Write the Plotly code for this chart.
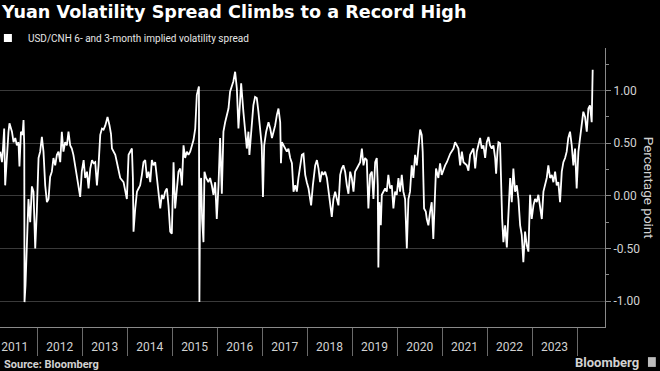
import plotly.graph_objects as go

title = "Yuan Volatility Spread Climbs to a Record High"
series_name = "USD/CNH 6- and 3-month implied volatility spread"
y_title = "Percentage point"
source = "Source: Bloomberg"
brand = "Bloomberg"

dates = [
    "2011-03-07", "2011-03-21", "2011-03-29", "2011-04-08", "2011-04-16", "2011-04-30", "2011-05-13", "2011-05-21",
    "2011-06-10", "2011-06-23", "2011-07-07", "2011-07-20", "2011-08-02", "2011-08-10", "2011-08-22", "2011-09-04",
    "2011-09-12", "2011-09-18", "2011-09-20", "2011-09-28", "2011-10-09", "2011-10-22", "2011-11-05", "2011-11-19",
    "2011-12-02", "2011-12-16", "2011-12-29",
    "2012-01-12", "2012-01-25", "2012-02-08", "2012-02-21", "2012-03-06", "2012-03-20", "2012-04-02", "2012-04-15",
    "2012-04-29", "2012-05-12", "2012-05-26", "2012-06-09", "2012-06-22", "2012-07-06", "2012-07-19", "2012-08-01",
    "2012-08-15", "2012-08-29", "2012-09-11", "2012-09-25", "2012-10-08", "2012-10-21", "2012-11-04", "2012-11-18",
    "2012-12-01", "2012-12-15", "2012-12-28",
    "2013-01-12", "2013-01-25", "2013-02-08", "2013-02-21", "2013-03-07", "2013-03-21", "2013-04-03", "2013-04-16",
    "2013-04-30", "2013-05-13", "2013-05-27", "2013-06-10", "2013-06-23", "2013-07-07", "2013-07-25", "2013-08-10",
    "2013-08-22", "2013-08-30", "2013-09-12", "2013-09-26", "2013-10-09", "2013-10-22", "2013-11-05", "2013-12-02",
    "2013-12-16", "2013-12-29",
    "2014-01-12", "2014-01-25", "2014-02-08", "2014-02-16", "2014-02-21", "2014-03-07", "2014-03-21", "2014-04-03",
    "2014-04-16", "2014-04-30", "2014-05-13", "2014-05-27", "2014-06-10", "2014-06-23", "2014-07-07", "2014-07-20",
    "2014-08-02", "2014-08-16", "2014-08-30", "2014-09-12", "2014-09-26", "2014-10-09", "2014-10-22", "2014-11-05",
    "2014-11-19", "2014-12-02", "2014-12-16", "2014-12-29",
    "2015-01-12", "2015-01-25", "2015-02-08", "2015-02-21", "2015-03-07", "2015-03-21", "2015-04-03", "2015-04-16",
    "2015-04-30", "2015-05-13", "2015-05-27", "2015-06-10", "2015-06-23", "2015-07-07", "2015-07-20", "2015-08-06",
    "2015-08-10", "2015-08-16", "2015-08-24", "2015-09-01", "2015-09-12", "2015-09-20", "2015-10-04", "2015-10-22",
    "2015-11-05", "2015-11-19", "2015-12-02", "2015-12-16", "2015-12-29",
    "2016-01-12", "2016-01-25", "2016-02-08", "2016-02-21", "2016-03-06", "2016-03-20", "2016-04-02", "2016-04-15",
    "2016-04-29", "2016-05-12", "2016-05-26", "2016-06-09", "2016-06-22", "2016-07-14", "2016-08-01", "2016-08-15",
    "2016-08-29", "2016-09-11", "2016-09-19", "2016-10-08", "2016-10-21", "2016-11-04", "2016-11-18", "2016-12-01",
    "2016-12-15", "2016-12-28",
    "2017-01-07", "2017-01-17", "2017-02-02", "2017-02-21", "2017-03-07", "2017-03-21", "2017-04-03", "2017-04-16",
    "2017-04-30", "2017-05-13", "2017-05-27", "2017-06-02", "2017-06-10", "2017-06-23", "2017-07-20", "2017-08-02",
    "2017-08-16", "2017-08-30", "2017-09-12", "2017-09-26", "2017-10-09", "2017-10-22", "2017-11-05", "2017-11-19",
    "2017-12-02", "2017-12-16", "2017-12-29",
    "2018-01-12", "2018-01-25", "2018-02-02", "2018-02-16", "2018-03-07", "2018-03-21", "2018-04-03", "2018-04-16",
    "2018-04-30", "2018-05-13", "2018-05-27", "2018-06-10", "2018-06-23", "2018-07-07", "2018-07-20", "2018-08-02",
    "2018-08-16", "2018-08-30", "2018-09-12", "2018-09-26", "2018-10-09", "2018-10-22", "2018-11-05", "2018-11-19",
    "2018-12-02", "2018-12-16", "2018-12-29",
    "2019-01-12", "2019-01-25", "2019-02-08", "2019-02-21", "2019-03-07", "2019-03-21", "2019-04-03", "2019-04-16",
    "2019-04-30", "2019-05-13", "2019-05-27", "2019-06-10", "2019-06-23", "2019-07-07", "2019-07-20", "2019-07-28",
    "2019-08-02", "2019-08-10", "2019-08-22", "2019-08-30", "2019-09-12", "2019-09-26", "2019-10-09", "2019-10-22",
    "2019-11-05", "2019-11-19", "2019-12-02", "2019-12-16", "2019-12-29",
    "2020-01-12", "2020-01-25", "2020-02-08", "2020-02-21", "2020-03-06", "2020-03-20", "2020-04-02", "2020-04-15",
    "2020-04-29", "2020-05-12", "2020-05-26", "2020-06-09", "2020-06-22", "2020-07-06", "2020-07-19", "2020-07-27",
    "2020-08-07", "2020-08-21", "2020-08-29", "2020-09-11", "2020-09-25", "2020-10-08", "2020-10-21", "2020-10-29",
    "2020-11-12", "2020-12-01", "2020-12-15", "2020-12-28",
    "2021-01-12", "2021-01-25", "2021-02-08", "2021-03-07", "2021-04-03", "2021-04-16", "2021-04-30", "2021-05-13",
    "2021-05-27", "2021-06-10", "2021-06-23", "2021-07-20", "2021-08-02", "2021-08-16", "2021-09-12", "2021-09-26",
    "2021-10-09", "2021-11-05", "2021-11-19", "2021-12-02", "2021-12-16", "2021-12-29",
    "2022-01-12", "2022-01-25", "2022-02-08", "2022-02-21", "2022-03-07", "2022-03-15", "2022-03-26", "2022-04-03",
    "2022-04-16", "2022-04-25", "2022-05-03", "2022-05-13", "2022-05-27", "2022-06-10", "2022-06-23", "2022-07-07",
    "2022-07-20", "2022-08-02", "2022-08-16", "2022-08-30", "2022-09-12", "2022-09-26", "2022-10-09", "2022-10-22",
    "2022-11-05", "2022-11-19", "2022-12-02", "2022-12-10", "2022-12-16", "2022-12-29",
    "2023-01-12", "2023-01-25", "2023-02-08", "2023-02-21", "2023-03-07", "2023-03-21", "2023-04-03", "2023-04-16",
    "2023-04-30", "2023-05-13", "2023-05-27", "2023-06-10", "2023-06-23", "2023-07-07", "2023-07-20", "2023-08-02",
    "2023-08-16", "2023-08-30", "2023-09-12", "2023-09-26", "2023-10-09", "2023-10-22", "2023-11-05", "2023-11-19",
    "2023-12-02", "2023-12-16", "2023-12-29",
    "2024-01-12", "2024-01-25", "2024-02-08", "2024-02-21", "2024-03-06", "2024-03-20", "2024-04-02", "2024-04-15",
    "2024-04-29", "2024-05-07",
]

spread = [
    0.42, 0.32, 0.45, 0.64, 0.10, 0.39, 0.61, 0.69,
    0.61, 0.51, 0.55, 0.48, 0.51, 0.28, 0.61, 0.58,
    0.72, 0.48, -1.01, -0.85, -0.53, -0.03, -0.25, 0.09,
    0.04, -0.50, -0.15,
    0.36, 0.42, 0.56, 0.42, 0.10, -0.06, -0.03, 0.18,
    0.23, 0.36, 0.29, 0.39, 0.42, 0.32, 0.61, 0.42,
    0.51, 0.48, 0.61, 0.48, 0.45, 0.39, 0.29, 0.17,
    0.10, -0.01, 0.23,
    0.34, 0.17, 0.23, 0.07, 0.26, 0.34, 0.31, 0.32,
    0.10, 0.29, 0.58, 0.64, 0.63, 0.67, 0.75, 0.67,
    0.59, 0.45, 0.42, 0.39, 0.32, 0.26, 0.17, 0.13,
    0.04, -0.03,
    0.39, 0.42, 0.45, 0.17, -0.34, -0.12, 0.04, 0.07,
    0.10, 0.20, 0.32, 0.34, 0.17, 0.23, 0.13, 0.34,
    0.29, 0.32, 0.17, 0.04, -0.12, 0.01, -0.03, 0.04,
    0.07, -0.09, -0.34, -0.36,
    0.32, -0.12, 0.04, 0.23, 0.26, 0.10, 0.48, 0.36,
    0.42, 0.39, 0.42, 0.48, 0.53, 0.64, 0.96, 1.04,
    -1.01, 0.10, 0.17, -0.22, -0.44, 0.23, 0.17, 0.13,
    0.17, 0.10, 0.01, 0.13, -0.22,
    0.10, 0.55, 0.02, 0.61, 0.70, 0.77, 0.83, 0.99,
    1.05, 1.09, 1.18, 1.02, 0.64, 1.07, 0.80, 0.58,
    0.45, 0.61, 0.39, 0.67, 0.86, 0.94, 0.93, 0.80,
    0.61, 0.48,
    -0.01, 0.48, 0.61, 0.70, 0.64, 0.55, 0.61, 0.67,
    0.77, 0.83, 0.70, 0.31, 0.51, 0.48, 0.42, 0.45,
    0.36, 0.31, 0.04, 0.10, 0.04, 0.17, 0.29, 0.39,
    0.40, 0.20, 0.13,
    0.07, -0.03, -0.09, 0.10, 0.29, 0.34, 0.26, 0.13,
    0.23, 0.20, 0.23, 0.17, 0.04, -0.12, -0.20, -0.03,
    0.04, -0.03, -0.09, 0.20, 0.26, 0.29, 0.23, 0.10,
    0.02, 0.23, 0.17,
    0.04, 0.23, 0.26, 0.29, 0.32, 0.45, 0.29, 0.36,
    0.34, -0.12, 0.20, 0.23, -0.03, 0.32, 0.36, 0.10,
    -0.68, -0.06, -0.28, 0.01, 0.04, 0.07, 0.04, 0.20,
    0.07, 0.10, -0.12, 0.04, 0.01,
    0.17, 0.04, 0.20, 0.04, -0.03, -0.50, -0.03, 0.04,
    0.29, 0.17, 0.39, 0.29, 0.48, 0.63, 0.58, 0.42,
    -0.12, -0.15, -0.22, -0.28, -0.15, -0.06, -0.41, -0.09,
    0.26, 0.17, 0.31, 0.20,
    0.26, 0.29, 0.32, 0.40, 0.45, 0.51, 0.48, 0.45,
    0.29, 0.42, 0.32, 0.29, 0.24, 0.39, 0.45, 0.26,
    0.42, 0.55, 0.45, 0.48, 0.36, 0.51,
    0.56, 0.48, 0.45, 0.48, 0.36, 0.21, 0.42, 0.51,
    0.50, -0.09, -0.22, -0.44, -0.28, -0.49, -0.15, 0.17,
    -0.06, 0.26, 0.04, 0.10, -0.03, -0.28, -0.37, -0.63,
    -0.34, -0.47, -0.53, -0.28, 0.01, -0.22,
    -0.09, -0.03, -0.06, 0.01, -0.12, -0.22, 0.04, 0.10,
    0.17, 0.29, 0.17, 0.20, 0.13, 0.23, 0.10, 0.13,
    -0.06, 0.23, 0.32, 0.36, 0.42, 0.55, 0.61, 0.48,
    0.29, 0.45, 0.07,
    0.42, 0.55, 0.67, 0.80, 0.75, 0.61, 0.83, 0.86,
    0.70, 1.20,
]

year_labels = ["2011", "2012", "2013", "2014", "2015", "2016", "2017",
               "2018", "2019", "2020", "2021", "2022", "2023"]
label_positions = ["2011-07-02", "2012-07-02", "2013-07-02", "2014-07-02", "2015-07-02", "2016-07-02",
                   "2017-07-02", "2018-07-02", "2019-07-02", "2020-07-02", "2021-07-02", "2022-07-02",
                   "2023-07-02"]
year_bounds = ["2011-01-01", "2012-01-01", "2013-01-01", "2014-01-01", "2015-01-01", "2016-01-01",
               "2017-01-01", "2018-01-01", "2019-01-01", "2020-01-01", "2021-01-01", "2022-01-01",
               "2023-01-01", "2024-01-01"]
grid_years = ["2012-01-01", "2014-01-01", "2016-01-01", "2018-01-01", "2020-01-01", "2022-01-01",
              "2024-01-01"]
y_ticks = [-1.0, -0.5, 0.0, 0.5, 1.0]
y_tick_text = ["-1.00", "-0.50", "0.00", "0.50", "1.00"]
y_minor = [-1.25, -0.75, -0.25, 0.25, 0.75, 1.25]
x_range = ["2011-03-05", "2024-08-15"]
y_range = [-1.247, 1.406]

GRID = "#3a3a3a"
AXIS = "#8a8a8a"
TEXT = "#d2d2d2"
FONT = "Roboto, sans-serif"
BOLD_FONT = "DejaVu Sans, sans-serif"

fig = go.Figure()
fig.add_trace(go.Scatter(
    x=dates, y=spread, mode="lines",
    line=dict(color="white", width=1.8),
    showlegend=False, hoverinfo="skip",
))
fig.add_trace(go.Scatter(
    x=[None], y=[None], mode="markers",
    marker=dict(symbol="square", size=8, color="white"),
    name=series_name, showlegend=True,
))

fig.update_layout(
    width=660, height=371,
    margin=dict(l=0, r=55, t=48, b=44, autoexpand=False),
    paper_bgcolor="black", plot_bgcolor="black",
    font=dict(family=FONT, color=TEXT, size=12),
    title=dict(
        text=f"<b>{title}</b>", xref="container", x=0.003, xanchor="left",
        yref="container", y=0.968, yanchor="middle",
        font=dict(family=BOLD_FONT, size=17.6, color="white"),
    ),
    showlegend=True,
    legend=dict(
        xref="paper", yref="paper", x=-0.02, y=(327 - 38) / 279,
        xanchor="left", yanchor="middle", bgcolor="rgba(0,0,0,0)",
        font=dict(family=FONT, size=10, color="#e6e6e6"), itemwidth=30,
    ),
    xaxis=dict(
        type="date", range=x_range, showgrid=False, zeroline=False,
        showline=True, linecolor=AXIS, linewidth=1,
        tickmode="array", tickvals=label_positions, ticktext=year_labels,
        ticks="", ticklabelstandoff=9,
        tickfont=dict(family=FONT, size=12, color=TEXT),
        minor=dict(tickmode="array", tickvals=year_bounds, ticks="outside",
                   ticklen=28, tickcolor="#6a6a6a", tickwidth=1, showgrid=False),
    ),
    xaxis2=dict(
        type="date", range=x_range, overlaying="x", anchor="y", side="bottom",
        tickmode="array", tickvals=grid_years, showgrid=True, gridcolor=GRID,
        showticklabels=False, ticks="", showline=False, zeroline=False,
    ),
    yaxis=dict(
        side="right", range=y_range, showline=True, linecolor=AXIS, linewidth=1,
        ticks="outside", ticklen=5, tickcolor=AXIS,
        tickmode="array", tickvals=y_ticks, ticktext=y_tick_text,
        showgrid=True, gridcolor=GRID, zeroline=False,
        tickfont=dict(family=FONT, size=12, color=TEXT),
        minor=dict(tickmode="array", tickvals=y_minor, ticks="outside",
                   ticklen=3, tickcolor=AXIS, showgrid=False),
    ),
    annotations=[
        dict(text=y_title, textangle=90, xref="paper", yref="paper",
             x=1.074, y=0.5, xanchor="center", yanchor="middle", showarrow=False,
             font=dict(family=FONT, size=13.5, color=TEXT)),
        dict(text=f"<b>{source}</b>", xref="paper", yref="paper",
             x=0.004, y=-0.133, xanchor="left", yanchor="middle", showarrow=False,
             font=dict(family=FONT, size=11, color=TEXT)),
        dict(text=f"<b>{brand}</b>", xref="paper", yref="paper",
             x=1.0595, y=-0.126, xanchor="right", yanchor="middle", showarrow=False,
             font=dict(family=FONT, size=13, color=TEXT)),
    ],
    shapes=[
        dict(type="rect", xref="paper", yref="paper", x0=1.071, x1=1.084,
             y0=-0.143, y1=-0.108, fillcolor="#bdbdbd", line=dict(width=0)),
    ],
)

fig.write_html("out.html", config={"displayModeBar": False},
               post_script="document.body.style.margin='0';")
